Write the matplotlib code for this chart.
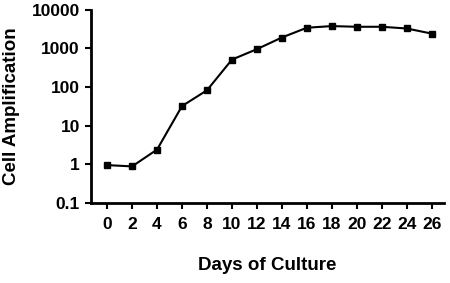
import matplotlib
matplotlib.use("Agg")
import matplotlib.pyplot as plt
from matplotlib.ticker import FixedLocator, FixedFormatter

days = [0, 2, 4, 6, 8, 10, 12, 14, 16, 18, 20, 22, 24, 26]
amplification = [0.95, 0.88, 2.4, 32, 82, 510, 950, 1900, 3400, 3750, 3600, 3600, 3250, 2400]
y_ticks = [0.1, 1, 10, 100, 1000, 10000]
y_labels = ["0.1", "1", "10", "100", "1000", "10000"]

plt.rcParams["font.family"] = ["Liberation Sans", "DejaVu Sans"]
plt.rcParams["font.weight"] = "bold"

fig = plt.figure(figsize=(4.5, 2.83), dpi=100)
ax = fig.add_axes([0.202, 0.283, 0.785, 0.683])

ax.plot(days, amplification, color="black", lw=1.5, marker="s", ms=5,
        markerfacecolor="black", markeredgecolor="black")
ax.set_yscale("log")
ax.set_ylim(0.1, 10000)
ax.set_xlim(-1.3, 27)
ax.yaxis.set_major_locator(FixedLocator(y_ticks))
ax.yaxis.set_major_formatter(FixedFormatter(y_labels))
ax.yaxis.set_minor_locator(FixedLocator([]))
ax.set_xticks(days)

for side in ("top", "right"):
    ax.spines[side].set_visible(False)
for side in ("left", "bottom"):
    ax.spines[side].set_linewidth(2)
ax.tick_params(axis="both", direction="out", length=4, width=1.5,
               labelsize=12.5)
ax.tick_params(axis="x", pad=6)
ax.tick_params(axis="y", pad=4)
for lbl in ax.get_xticklabels() + ax.get_yticklabels():
    lbl.set_fontweight("bold")

ax.set_xlabel("Days of Culture", fontsize=13.5, fontweight="bold")
ax.set_ylabel("Cell Amplification", fontsize=13.5, fontweight="bold")
ax.xaxis.set_label_coords(0.5, -0.28)
ax.yaxis.set_label_coords(-0.2, 0.5)

fig.savefig("out.png", dpi=100)
